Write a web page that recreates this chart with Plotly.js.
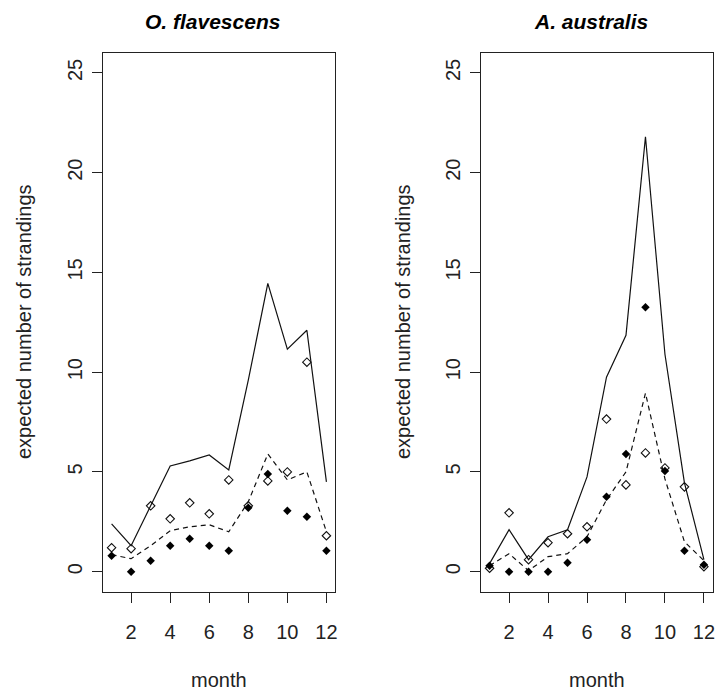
<!DOCTYPE html>
<html>
<head>
<meta charset="utf-8">
<script src="https://cdn.plot.ly/plotly-3.0.1.min.js"></script>
<style>html,body{margin:0;padding:0;background:#fff;}#chart{width:716px;height:691px;}</style>
</head>
<body>
<div id="chart"></div>
<script>
// ---- data ----
const months = [1,2,3,4,5,6,7,8,9,10,11,12];
const panelTitles = ["O. flavescens", "A. australis"];
const xTickVals = [2,4,6,8,10,12];
const yTickVals = [0,5,10,15,20,25];

// O. flavescens
const oflUpper   = [2.4, 1.3, 3.3, 5.3, 5.55, 5.85, 5.1, 9.6, 14.45, 11.15, 12.1, 4.5];
const oflMean    = [0.85, 0.65, 1.3, 2.05, 2.25, 2.35, 2.0, 3.5, 5.9, 4.6, 5.0, 2.0];
const oflOpen    = [1.2, 1.15, 3.3, 2.65, 3.45, 2.9, 4.6, 3.3, 4.55, 5.0, 10.5, 1.8];
const oflFilled  = [0.8, 0, 0.55, 1.3, 1.65, 1.3, 1.05, 3.2, 4.9, 3.05, 2.75, 1.05];

// A. australis
const ausUpper   = [0.4, 2.1, 0.6, 1.75, 2.1, 4.75, 9.75, 11.85, 21.8, 10.9, 4.45, 0.6];
const ausMean    = [0.3, 0.9, 0.05, 0.75, 0.9, 1.75, 3.6, 5.0, 8.95, 4.65, 1.5, 0.55];
const ausOpen    = [0.17, 2.95, 0.6, 1.45, 1.9, 2.25, 7.65, 4.35, 5.95, 5.2, 4.25, 0.25];
const ausFilled  = [0.3, 0, 0, 0, 0.45, 1.6, 3.75, 5.9, 13.25, 5.05, 1.05, 0.35];

// ---- layout helpers ----
const W = 716, H = 691;
const FONT = "Liberation Sans, Arial, Helvetica, sans-serif";
const px = v => v / W;
const py = v => 1 - v / H;

function panelTraces(xa, ya, upper, mean, open, filled) {
  return [
    {x: months, y: upper, xaxis: xa, yaxis: ya, mode: "lines", type: "scatter",
     line: {color: "#111", width: 1.2}, hoverinfo: "skip"},
    {x: months, y: mean, xaxis: xa, yaxis: ya, mode: "lines", type: "scatter",
     line: {color: "#111", width: 1.2, dash: "5px,4px"}, hoverinfo: "skip"},
    {x: months, y: open, xaxis: xa, yaxis: ya, mode: "markers", type: "scatter",
     marker: {symbol: "diamond-open", size: 6.5, color: "#111", line: {width: 1.1, color: "#111"}},
     cliponaxis: false, hoverinfo: "skip"},
    {x: months, y: filled, xaxis: xa, yaxis: ya, mode: "markers", type: "scatter",
     marker: {symbol: "diamond", size: 6.5, color: "#000"},
     cliponaxis: false, hoverinfo: "skip"}
  ];
}

const traces = [].concat(
  panelTraces("x", "y", oflUpper, oflMean, oflOpen, oflFilled),
  panelTraces("x2", "y2", ausUpper, ausMean, ausOpen, ausFilled)
);

const xCommon = {
  range: [0.56, 12.44], tickvals: xTickVals, ticktext: xTickVals.map(String),
  showline: true, mirror: true, linecolor: "#222", linewidth: 1,
  ticks: "outside", ticklen: 10, tickwidth: 1, tickcolor: "#222",
  showgrid: false, zeroline: false, fixedrange: true,
  tickfont: {family: FONT, size: 20, color: "#222"}, ticklabelstandoff: 12,
  ticklabeloverflow: "allow"
};
const yCommon = {
  range: [-1.02, 26.0], tickvals: yTickVals, ticktext: yTickVals.map(String),
  showline: true, mirror: true, linecolor: "#222", linewidth: 1,
  ticks: "outside", ticklen: 10, tickwidth: 1, tickcolor: "#222",
  showgrid: false, zeroline: false, fixedrange: true, tickangle: -90,
  tickfont: {family: FONT, size: 20, color: "#222"}, ticklabelstandoff: 2,
  domain: [1 - 592 / H, 1 - 53 / H]
};

const annotations = [];
const titleX = [213, 591];
const centerX = [219, 597];
const ylabX = [24, 403];
for (let i = 0; i < 2; i++) {
  annotations.push({text: "<b><i>" + panelTitles[i] + "</i></b>", xref: "paper", yref: "paper",
    x: px(titleX[i]), y: py(22), xanchor: "center", yanchor: "middle", showarrow: false,
    font: {family: FONT, size: 21, color: "#000"}});
  annotations.push({text: "month", xref: "paper", yref: "paper",
    x: px(centerX[i]), y: py(680), xanchor: "center", yanchor: "middle", showarrow: false,
    font: {family: FONT, size: 20, color: "#222"}});
  annotations.push({text: "expected number of strandings", xref: "paper", yref: "paper",
    x: px(ylabX[i]), y: py(322), xanchor: "center", yanchor: "middle", showarrow: false,
    textangle: -90, font: {family: FONT, size: 20, color: "#222"}});
}

const layout = {
  width: W, height: H,
  margin: {l: 0, r: 0, t: 0, b: 0},
  paper_bgcolor: "#fff", plot_bgcolor: "#fff",
  showlegend: false,
  xaxis: Object.assign({}, xCommon, {domain: [103 / W, 335 / W], anchor: "y"}),
  yaxis: Object.assign({}, yCommon, {anchor: "x"}),
  xaxis2: Object.assign({}, xCommon, {domain: [481 / W, 712.5 / W], anchor: "y2"}),
  yaxis2: Object.assign({}, yCommon, {anchor: "x2"}),
  annotations: annotations
};

Plotly.newPlot("chart", traces, layout, {staticPlot: true, displayModeBar: false});
</script>
</body>
</html>
